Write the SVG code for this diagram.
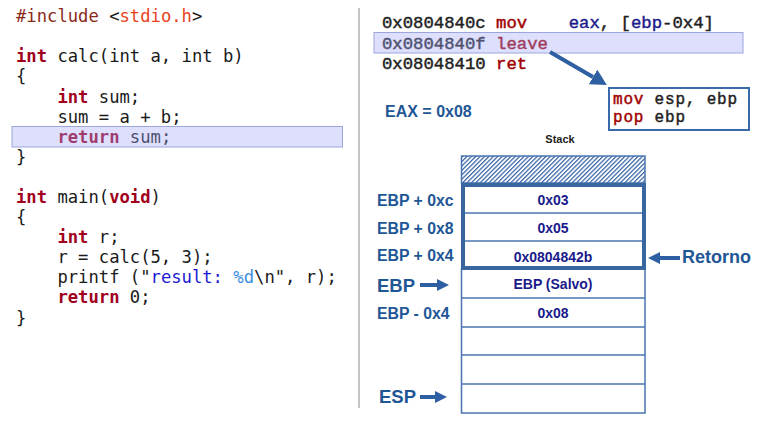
<svg xmlns="http://www.w3.org/2000/svg" width="760" height="427" viewBox="0 0 760 427">
<style>
.code{font-family:"DejaVu Sans Mono",monospace;font-size:17.2px;fill:#1a1a1a;white-space:pre}
.asm{font-family:"Liberation Mono","Courier New",monospace;font-size:17.3px;fill:#222;stroke:#222;stroke-width:0.45;white-space:pre}
.box{font-size:16px;letter-spacing:0.8px}
.kw{fill:#a0001c;font-weight:bold}
.red{fill:#a00000;stroke:#a00000}
.reg{fill:#1c1c8c;stroke:#1c1c8c}
.inc{fill:#8a2a18}
.str{fill:#e8441c}
.lit{fill:#1a1ad0}
.fmt{fill:#3c8ee0}
.lbl{font-family:"Liberation Sans",Arial,sans-serif;font-weight:bold;fill:#1f5796}
.cell{font-family:"Liberation Sans",Arial,sans-serif;font-weight:bold;font-size:14px;fill:#1a1a8c;text-anchor:middle}
.hl{fill:#a1a5fa;fill-opacity:0.36;stroke:#9aa6dc;stroke-width:1}
.st{fill:none;stroke:#4a74b0;stroke-width:1.5}
.conn{stroke:#2e5fa2;stroke-width:4;fill:none}
</style>
<defs>
<pattern id="hatch" patternUnits="userSpaceOnUse" width="3.1" height="3.1" patternTransform="rotate(45)">
<rect x="0" y="0" width="1.25" height="3.1" fill="#3a66a8"/>
</pattern>
<marker id="ah" markerUnits="userSpaceOnUse" markerWidth="12" markerHeight="12" viewBox="0 0 12 12" refX="0" refY="6" orient="auto">
<path d="M0,0 L12,6 L0,12 z" fill="#2e5fa2"/>
</marker>
<marker id="ahbig" markerUnits="userSpaceOnUse" markerWidth="16" markerHeight="17" viewBox="0 0 16 17" refX="0" refY="8.5" orient="auto">
<path d="M0,0 L16,8.5 L0,17 z" fill="#2e5fa2"/>
</marker>
</defs>
<rect width="760" height="427" fill="#fff"/>

<g id="source-code">
<text class="code" x="16" y="22"><tspan class="inc">#include</tspan> &lt;<tspan class="str">stdio.h</tspan>&gt;</text>
<text class="code" x="16" y="62"><tspan class="kw">int</tspan> calc(int a, int b)</text>
<text class="code" x="16" y="82">{</text>
<text class="code" x="16" y="102.5">    <tspan class="kw">int</tspan> sum;</text>
<text class="code" x="16" y="122.5">    sum = a + b;</text>
<text class="code" x="16" y="142.5">    <tspan class="kw">return</tspan> sum;</text>
<text class="code" x="16" y="162.5">}</text>
<text class="code" x="16" y="203"><tspan class="kw">int</tspan> main(<tspan class="kw">void</tspan>)</text>
<text class="code" x="16" y="223">{</text>
<text class="code" x="16" y="243">    <tspan class="kw">int</tspan> r;</text>
<text class="code" x="16" y="263">    r = calc(5, 3);</text>
<text class="code" x="16" y="283">    printf ("<tspan class="lit">result: </tspan><tspan class="fmt">%d</tspan>\n", r);</text>
<text class="code" x="16" y="303">    <tspan class="kw">return</tspan> 0;</text>
<text class="code" x="16" y="323.5">}</text>
<rect class="hl" x="12" y="126.5" width="330.5" height="20.5"/>
</g>

<line x1="359" y1="8" x2="359" y2="408" stroke="#888" stroke-width="1"/>

<g id="asm-code">
<text class="asm" x="382" y="28">0x0804840c <tspan class="red">mov</tspan>    <tspan class="reg">eax</tspan>, [<tspan class="reg">ebp</tspan>-0x4]</text>
<text class="asm" x="382" y="49">0x0804840f <tspan class="red">leave</tspan></text>
<text class="asm" x="382" y="69">0x08048410 <tspan class="red">ret</tspan></text>
<rect class="hl" x="374" y="32.5" width="369" height="20.5"/>
</g>

<g id="leave-box">
<rect x="609" y="88" width="140" height="42" fill="#fff" stroke="#3a6aaa" stroke-width="2"/>
<text class="asm box" x="613" y="104"><tspan class="red">mov</tspan> esp, ebp</text>
<text class="asm box" x="613" y="122"><tspan class="red">pop</tspan> ebp</text>
</g>

<g id="eax">
<text class="lbl" x="385" y="117" font-size="16">EAX = 0x08</text>
</g>

<g id="stack">
<text x="560" y="143" font-family="Liberation Sans,Arial,sans-serif" font-weight="bold" font-size="11" fill="#222" text-anchor="middle">Stack</text>
<rect x="461.5" y="156" width="183.5" height="27" fill="url(#hatch)" stroke="#4a74b0" stroke-width="1.5"/>
<rect class="st" x="461.5" y="269" width="183.5" height="144"/>
<line class="st" x1="461.5" y1="298" x2="645" y2="298"/>
<line class="st" x1="461.5" y1="327" x2="645" y2="327"/>
<line class="st" x1="461.5" y1="355" x2="645" y2="355"/>
<line class="st" x1="461.5" y1="384" x2="645" y2="384"/>
<line class="st" x1="463" y1="213" x2="644" y2="213"/>
<line class="st" x1="463" y1="241" x2="644" y2="241"/>
<rect x="463" y="185" width="181" height="83" fill="none" stroke="#3a66a0" stroke-width="4"/>
<text class="cell" x="553" y="205">0x03</text>
<text class="cell" x="553" y="233">0x05</text>
<text class="cell" x="553" y="262">0x0804842b</text>
<text class="cell" x="553" y="289">EBP (Salvo)</text>
<text class="cell" x="553" y="318">0x08</text>
</g>

<g id="stack-labels">
<text class="lbl" x="377" y="206" font-size="15.8">EBP + 0xc</text>
<text class="lbl" x="377" y="234" font-size="15.8">EBP + 0x8</text>
<text class="lbl" x="377" y="261" font-size="15.8">EBP + 0x4</text>
<text class="lbl" x="377" y="292" font-size="18.5">EBP</text>
<text class="lbl" x="377" y="319" font-size="15.8">EBP - 0x4</text>
<text class="lbl" x="379" y="403" font-size="18.5">ESP</text>
<text class="lbl" x="682" y="263" font-size="18">Retorno</text>
</g>

<g id="connectors">
<line class="conn" x1="550" y1="52" x2="593" y2="77" marker-end="url(#ahbig)"/>
<line class="conn" x1="420" y1="285" x2="437" y2="285" marker-end="url(#ah)"/>
<line class="conn" x1="420" y1="397" x2="435" y2="397" marker-end="url(#ah)"/>
<line class="conn" x1="680" y1="258" x2="660" y2="258" marker-end="url(#ah)"/>
</g>
</svg>
